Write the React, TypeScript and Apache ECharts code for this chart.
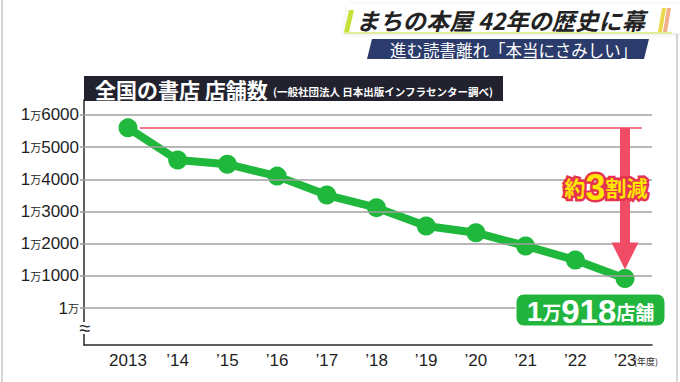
import React, { useEffect, useRef } from 'react';
import * as echarts from 'echarts';

// ---- data ----
const years = [2013, 2014, 2015, 2016, 2017, 2018, 2019, 2020, 2021, 2022, 2023];
const storeCounts = [15600, 14600, 14470, 14100, 13510, 13120, 12550, 12340, 11930, 11490, 10918];
const yTickValues = [10000, 11000, 12000, 13000, 14000, 15000, 16000];

// ---- texts ----
const headline = 'まちの本屋 42年の歴史に幕';
const subline = '進む読書離れ「本当にさみしい」';
const chartTitle = '全国の書店 店舗数';
const chartSource = '(一般社団法人 日本出版インフラセンター調べ)';
const yearUnit = '(年度)';

const CJK = "'Noto Sans CJK JP', sans-serif";
const LAT = "'Liberation Sans', Arial, sans-serif";
const GREEN = '#1fb83c';
const RED = '#f04c66';

export default function App() {
  const ref = useRef<HTMLDivElement>(null);

  useEffect(() => {
    document.body.style.margin = '0';
    if (!ref.current) return;
    const chart = echarts.init(ref.current, null, { renderer: 'svg' });

    const first = storeCounts[0];
    const last = storeCounts[storeCounts.length - 1];
    const firstYear = years[0];
    const lastYear = years[years.length - 1];
    const declineTenths = Math.round((1 - last / first) * 10);
    const man = Math.floor(last / 10000);
    const rest = last % 10000;

    const yLabel = (v: number) => {
      const r = v - 10000;
      return r === 0 ? '{a|1}{b|万}' : `{a|1}{b|万}{a|${r}}`;
    };
    const xLabel = (v: number) => (v === firstYear ? String(v) : '’' + String(v).slice(2));

    const option: any = {
      animation: false,
      backgroundColor: '#ffffff',
      grid: { left: 84, right: 28, top: 100, bottom: 37, containLabel: false, outerBoundsMode: 'none' },
      xAxis: {
        type: 'value',
        min: 2012.115,
        max: 2023.543,
        axisLine: { show: true, onZero: false, lineStyle: { color: '#2a2a2a', width: 1.5 } },
        axisTick: { show: false },
        splitLine: { show: false },
        axisLabel: {
          customValues: years,
          formatter: xLabel,
          fontSize: 17,
          fontFamily: LAT,
          color: '#1e1e1e',
          margin: 7,
        },
      },
      yAxis: {
        type: 'value',
        min: 8850,
        max: 16466,
        axisLine: { show: true, onZero: false, lineStyle: { color: '#2a2a2a', width: 1.5 } },
        axisTick: { show: true, customValues: yTickValues, length: 4, lineStyle: { color: '#999', width: 1.5 } },
        splitLine: { show: false },
        axisLabel: {
          customValues: yTickValues,
          formatter: yLabel,
          margin: 5,
          rich: {
            a: { fontSize: 17, fontFamily: LAT, color: '#1e1e1e', lineHeight: 20, verticalAlign: 'middle' },
            b: { fontSize: 11, fontFamily: CJK, color: '#1e1e1e', lineHeight: 20, verticalAlign: 'middle' },
          },
        },
      },
      series: [
        {
          name: 'grid',
          type: 'line',
          data: [],
          z: 1,
          silent: true,
          markLine: {
            silent: true,
            symbol: 'none',
            label: { show: false },
            lineStyle: { color: '#a0a0a0', width: 1.5, type: 'solid' },
            data: yTickValues.map((v) => ({ yAxis: v })),
          },
        },
        {
          name: 'ref',
          type: 'line',
          data: [],
          z: 2,
          silent: true,
          markLine: {
            silent: true,
            symbol: 'none',
            label: { show: false },
            lineStyle: { color: RED, width: 1.5, type: 'solid' },
            data: [[{ coord: [firstYear + 0.24, first] }, { coord: [lastYear + 0.34, first] }]],
          },
        },
        {
          name: 'arrow',
          type: 'line',
          data: [],
          z: 2,
          silent: true,
          markLine: {
            silent: true,
            symbol: ['none', 'triangle'],
            symbolSize: 27,
            label: { show: false },
            lineStyle: { color: RED, width: 10, type: 'solid', opacity: 1 },
            itemStyle: { color: RED },
            data: [[{ coord: [lastYear, first] }, { coord: [lastYear, last + 700] }]],
          },
        },
        {
          name: '店舗数',
          type: 'line',
          z: 3,
          data: years.map((y, i) => [y, storeCounts[i]]),
          symbol: 'circle',
          symbolSize: 19,
          lineStyle: { color: GREEN, width: 8 },
          itemStyle: { color: GREEN },
        },
      ],
      graphic: [
        // frame edges
        { type: 'line', z: 0, shape: { x1: 2, y1: 0, x2: 2, y2: 382 }, style: { stroke: '#c8c8c8', lineWidth: 1.5 } },
        { type: 'line', z: 0, shape: { x1: 677, y1: 34, x2: 677, y2: 382 }, style: { stroke: '#c8c8c8', lineWidth: 1.5 } },
        // header band
        {
          type: 'polygon', z: 5,
          shape: { points: [[348, 4], [680, 4], [680, 33], [344, 33]] },
          style: { fill: '#ffffff', shadowColor: 'rgba(0,0,0,0.12)', shadowBlur: 4, shadowOffsetY: 1 },
        },
        { type: 'line', z: 6, shape: { x1: 344, y1: 33, x2: 672, y2: 33 }, style: { stroke: '#dbe87a', lineWidth: 1.5 } },
        { type: 'polygon', z: 6, shape: { points: [[349, 10], [354, 10], [349, 32], [344, 32]] }, style: { fill: '#c6e23a' } },
        { type: 'polygon', z: 6, shape: { points: [[662, 8], [666, 8], [662, 32], [658, 32]] }, style: { fill: '#e8d84a' } },
        { type: 'polygon', z: 6, shape: { points: [[667, 8], [671, 8], [667, 32], [663, 32]] }, style: { fill: '#f2b08a' } },
        {
          type: 'text', z: 7, x: 356, y: 20,
          style: { text: headline, fontSize: 23.3, fontWeight: 'bold', fontStyle: 'italic', fontFamily: CJK, fill: '#222222', verticalAlign: 'middle', align: 'left' },
        },
        // sub band
        { type: 'polygon', z: 5, shape: { points: [[372, 39], [649, 39], [644, 59], [367, 59]] }, style: { fill: '#2b3c6c' } },
        {
          type: 'text', z: 7, x: 390, y: 49.5,
          style: { text: subline, fontSize: 16.5, fontFamily: CJK, fill: '#ffffff', verticalAlign: 'middle', align: 'left' },
        },
        // chart title box
        { type: 'rect', z: 5, shape: { x: 84, y: 76, width: 419, height: 25 }, style: { fill: '#21222e' } },
        {
          type: 'text', z: 7, x: 95, y: 89,
          style: { text: chartTitle, fontSize: 21, fontWeight: 'bold', fontFamily: CJK, fill: '#ffffff', verticalAlign: 'middle', align: 'left' },
        },
        {
          type: 'text', z: 7, x: 273, y: 91,
          style: { text: chartSource, fontSize: 10.5, fontWeight: 'bold', fontFamily: CJK, fill: '#ffffff', verticalAlign: 'middle', align: 'left' },
        },
        // axis break
        { type: 'rect', z: 8, shape: { x: 79, y: 322, width: 12, height: 12 }, style: { fill: '#ffffff' } },
        {
          type: 'text', z: 9, x: 85, y: 328,
          style: { text: '≈', fontSize: 20, fontFamily: LAT, fill: '#2a2a2a', align: 'center', verticalAlign: 'middle' },
        },
        // year unit
        {
          type: 'text', z: 7, x: 634, y: 361,
          style: { text: yearUnit, fontSize: 9, fontFamily: CJK, fill: '#1e1e1e', align: 'left', verticalAlign: 'middle' },
        },
        // decline label
        {
          type: 'text', z: 10, x: 606, y: 187,
          style: {
            text: `{s|約}{n|${declineTenths}}{s|割減}`,
            align: 'center', verticalAlign: 'middle',
            rich: {
              s: { fontSize: 21, fontWeight: 'bold', fontFamily: CJK, fill: '#ffe800', stroke: '#e6334e', lineWidth: 5 },
              n: { fontSize: 36, fontWeight: 'bold', fontFamily: LAT, fill: '#ffe800', stroke: '#e6334e', lineWidth: 5 },
            },
          },
        },
        // final value box
        {
          type: 'rect', z: 10, shape: { x: 516, y: 294, width: 149, height: 32, r: 8 },
          style: { fill: '#22b53e', stroke: '#ffffff', lineWidth: 1 },
        },
        {
          type: 'text', z: 11, x: 590.5, y: 311,
          style: {
            text: `{a|${man}}{m|万}{b|${rest}}{m|店舗}`,
            align: 'center', verticalAlign: 'middle',
            rich: {
              a: { fontSize: 28, fontWeight: 'bold', fontFamily: LAT, fill: '#ffffff' },
              m: { fontSize: 19, fontWeight: 'bold', fontFamily: CJK, fill: '#ffffff' },
              b: { fontSize: 33, fontWeight: 'bold', fontFamily: LAT, fill: '#ffffff' },
            },
          },
        },
      ],
    };

    chart.setOption(option);
    return () => chart.dispose();
  }, []);

  return <div ref={ref} style={{ width: 680, height: 382 }} />;
}
